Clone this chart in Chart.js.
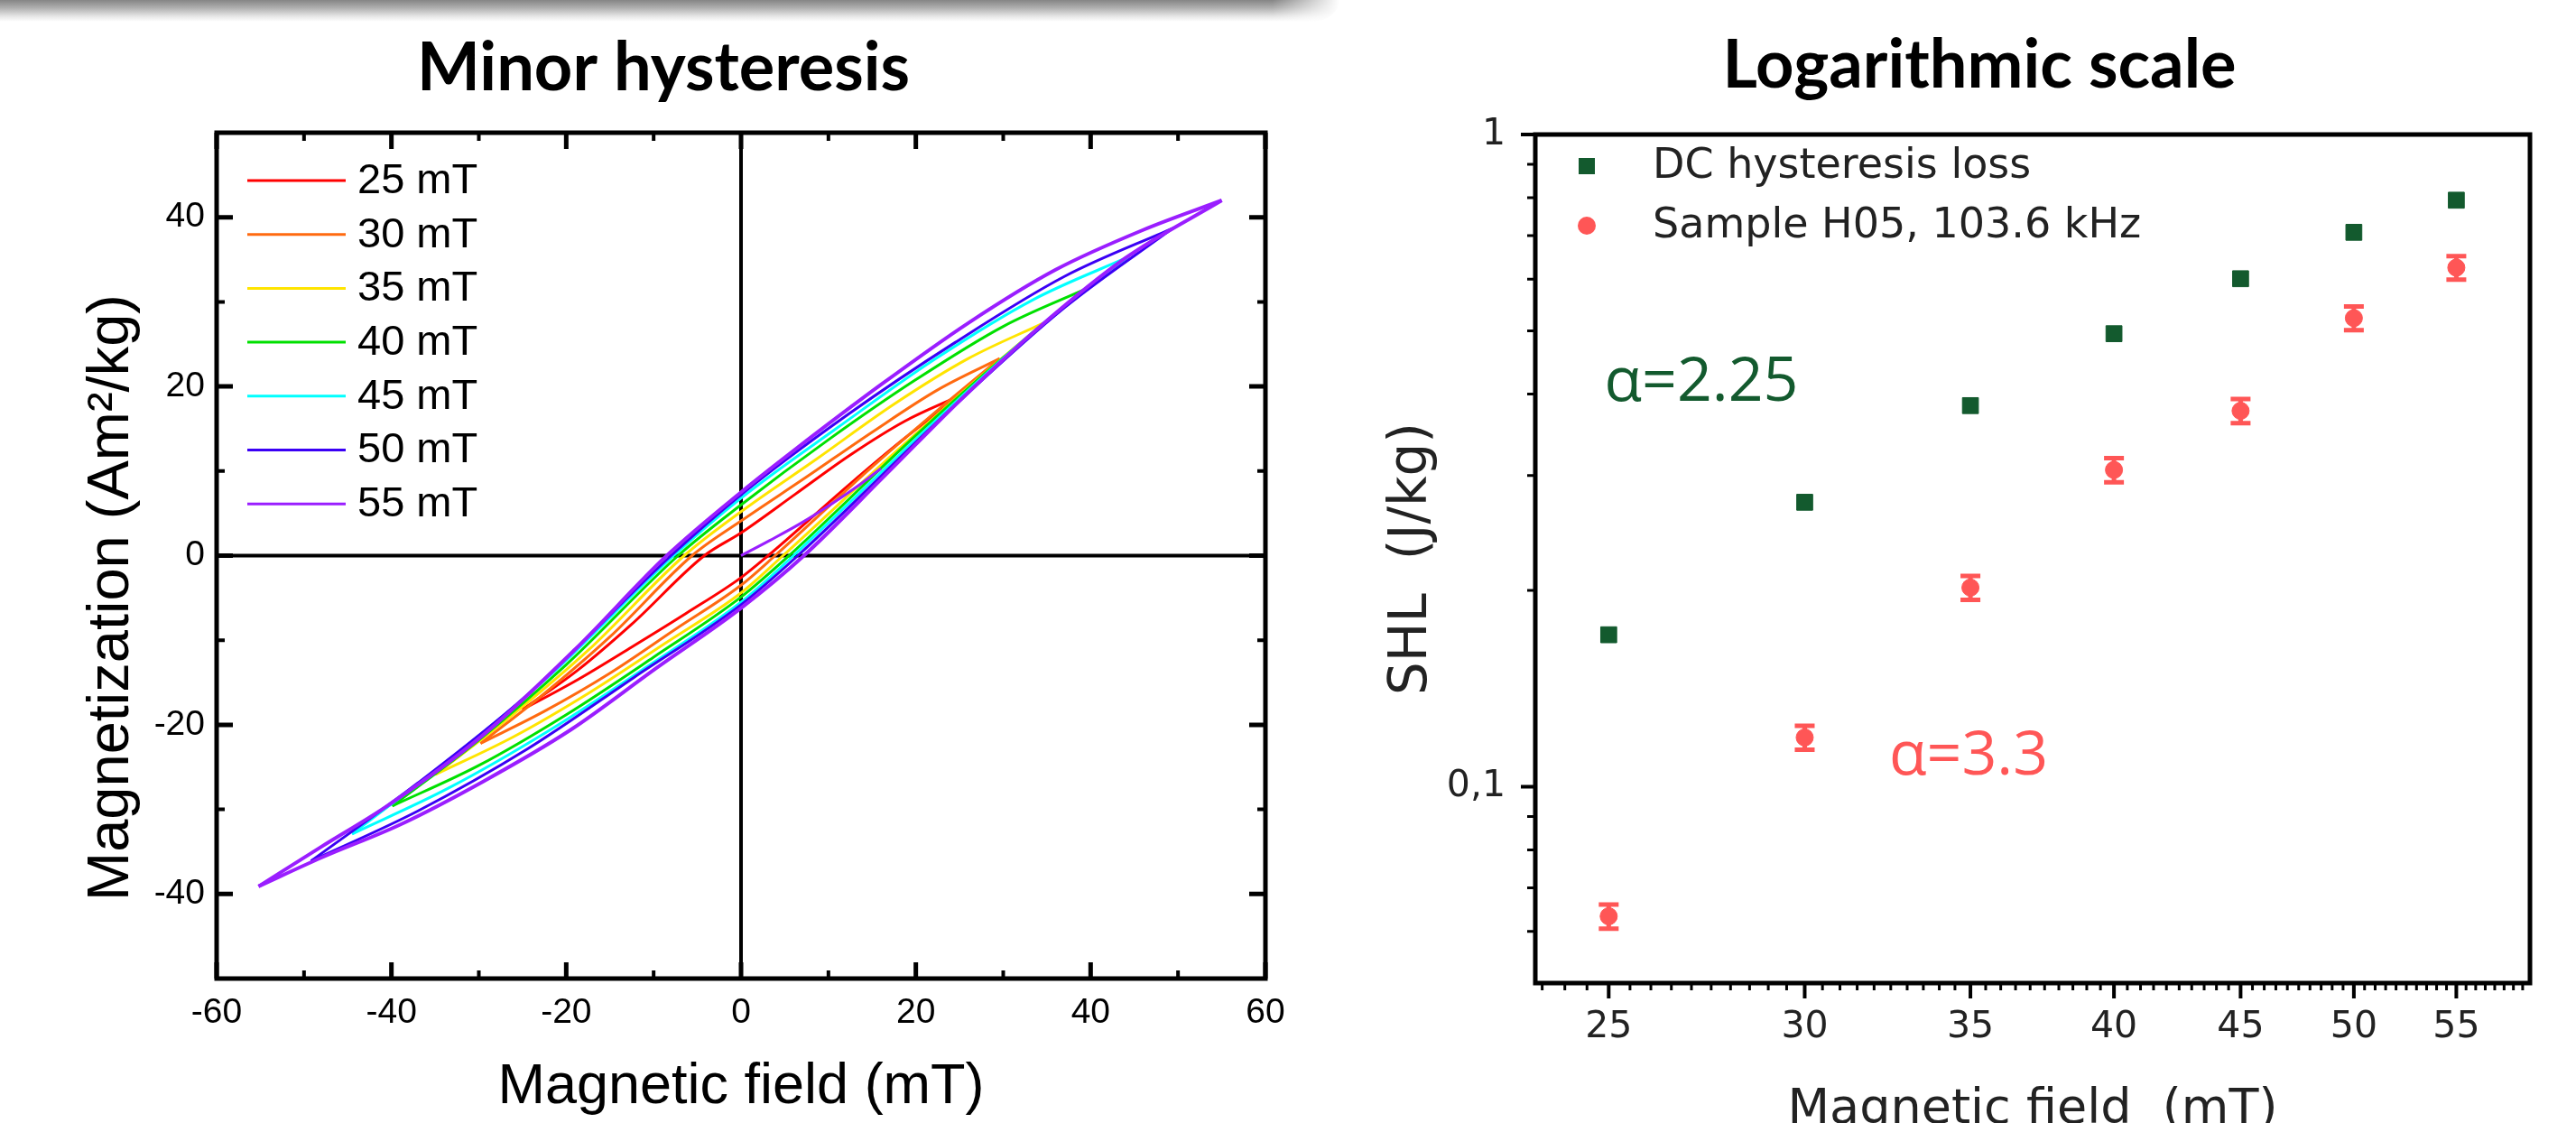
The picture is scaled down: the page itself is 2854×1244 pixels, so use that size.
<!DOCTYPE html>
<html><head><meta charset="utf-8"><title>Minor hysteresis / Logarithmic scale</title>
<script src="https://cdn.jsdelivr.net/npm/chart.js@4/dist/chart.umd.min.js"></script>
<style>
html,body{margin:0;padding:0;background:#fff;width:2854px;height:1244px;overflow:hidden;}
.box{position:absolute;top:0;height:1244px;}
#wl{left:0;width:1480px;}
#wr{left:1480px;width:1374px;}
#shade{position:absolute;left:0;top:0;width:1484px;height:24px;
 background:linear-gradient(to bottom,#858585 0%,#adadad 35%,#e6e6e6 75%,rgba(255,255,255,0) 100%);
 border-bottom-right-radius:30px 24px;
 -webkit-mask-image:linear-gradient(to right,#000 0%,#000 95%,transparent 100%);
 mask-image:linear-gradient(to right,#000 0%,#000 95%,transparent 100%);}
</style></head>
<body>
<div id="wl" class="box"><canvas id="cl"></canvas></div>
<div id="wr" class="box"><canvas id="cr"></canvas></div>
<div id="shade"></div>
<script>
// ---------------- texts ----------------
const titleL = 'Minor hysteresis';
const titleR = 'Logarithmic scale';
const xTitleL = 'Magnetic field (mT)';
const yTitleL = 'Magnetization (Am\u00B2/kg)';
const xTitleR = 'Magnetic field  (mT)';
const yTitleR = 'SHL  (J/kg)';
const alphaDC = '\u03B1=2.25';
const alphaH05 = '\u03B1=3.3';

// ---------------- left chart data (H in mT, M in Am2/kg) ----------------
const loopLabels = ['25 mT', '30 mT', '35 mT', '40 mT', '45 mT', '50 mT', '55 mT'];
const xTicksL = [-60, -40, -20, 0, 20, 40, 60];
const yTicksL = [-40, -20, 0, 20, 40];
const xMinorL = [-50, -30, -10, 10, 30, 50];
const yMinorL = [-30, -10, 10, 30];

const up25 = [[25,18.9],[18.75,15.9],[12.5,11.9],[6.25,7.3],[0,2.7],[-4.2,0],[-12.5,-8.1],[-18.75,-13.6],[-25,-18.2]];
const lo25 = [[-25,-18.2],[-18.75,-14.7],[-12.5,-10.8],[-6.25,-6.8],[0,-2.6],[3.1,0],[12.5,8.5],[18.75,13.9],[25,18.9]];
const up30 = [[29.6,23.3],[22.5,19.6],[15,14.6],[7.5,9.3],[0,4.1],[-5.6,0],[-15,-9.6],[-22.5,-16.3],[-29.8,-22.2]];
const lo30 = [[-29.8,-22.2],[-22.5,-18.4],[-15,-13.9],[-7.5,-8.7],[0,-3.5],[3.9,0],[15,10.5],[22.5,17.2],[29.6,23.3]];
const up35 = [[34.6,27.5],[26,23.3],[17.5,17.9],[8.75,11.5],[0,5.2],[-6.5,0],[-17.5,-11.2],[-26,-18.7],[-35,-25.9]];
const lo35 = [[-35,-25.9],[-26,-21.4],[-17.5,-16.3],[-8.75,-10.4],[0,-4.4],[4.8,0],[17.5,12.1],[26,19.9],[34.6,27.5]];
const up40 = [[39.6,31.6],[30,27.1],[20,20.8],[10,13.7],[0,6.0],[-7.2,0],[-20,-12.9],[-30,-21.8],[-39.9,-29.6]];
const lo40 = [[-39.9,-29.6],[-30,-24.8],[-20,-18.8],[-10,-12.0],[0,-4.9],[5.5,0],[20,14.2],[30,23.4],[39.6,31.6]];
const up45 = [[44.3,35.3],[33.5,30.3],[22,23.1],[11,15.1],[0,6.8],[-7.7,0],[-22,-14.3],[-33.5,-24.2],[-44.5,-32.9]];
const lo45 = [[-44.5,-32.9],[-33.5,-27.5],[-22,-20.7],[-11,-13.3],[0,-5.5],[6.0,0],[22,15.7],[33.5,26.5],[44.3,35.3]];
const up50 = [[49.4,38.7],[37,33.0],[24.5,25.2],[12.25,16.7],[0,7.2],[-8,0],[-24.5,-16.5],[-37,-26.9],[-49.2,-36.1]];
const lo50 = [[-49.2,-36.1],[-37,-30.2],[-24.5,-22.9],[-12.25,-14.4],[0,-5.8],[6.5,0],[24.5,17.8],[37,29.3],[49.4,38.7]];
const up55 = [[55,42],[46,38.5],[36,33.8],[26,27.5],[16,20.2],[6,12.4],[0,7.5],[-8.5,0],[-19,-11.1],[-29.5,-21.2],[-40.5,-29.6],[-48,-34.4],[-55.2,-39.1]];
const lo55 = [[-55.2,-39.1],[-48,-35.7],[-39,-31.8],[-29.5,-26.7],[-19.5,-20.6],[-9.7,-13.3],[0,-6.2],[7.2,0],[16.4,9.4],[25.4,18.7],[34,26.9],[44,35.2],[55,42]];
const initial55 = [[0,0],[3.3,1.8],[6.8,3.8],[10.2,6.0],[13.6,8.4],[16,10.3]];

const loopUpper = [up25, up30, up35, up40, up45, up50, up55];
const loopLower = [lo25, lo30, lo35, lo40, lo45, lo50, lo55];

// ---------------- right chart data ----------------
const fieldR = [25, 30, 35, 40, 45, 50, 55];
const dcLoss = [0.171, 0.273, 0.384, 0.495, 0.601, 0.708, 0.793];
const h05Loss = [0.0633, 0.119, 0.202, 0.306, 0.377, 0.523, 0.625];
const h05Err = [0.0027, 0.005, 0.0085, 0.013, 0.016, 0.022, 0.026];
const xTicksR = [25, 30, 35, 40, 45, 50, 55];
const yTicksR = [0.1, 1];
const yMinorR = [0.06, 0.07, 0.08, 0.09, 0.2, 0.3, 0.4, 0.5, 0.6, 0.7, 0.8, 0.9];
const dsLabelsR = ['DC hysteresis loss', 'Sample H05, 103.6 kHz'];

// ---------------- styles ----------------
const loopColors = ['#FF0000', '#FF6A10', '#FFE400', '#00E000', '#00FFFF', '#3A00F5', '#9A1EFF'];
const greenC = '#135A2E';
const redC = '#FF5656';
const fontL = "'Liberation Sans', Arial, sans-serif";
const fontR = "'DejaVu Sans', Verdana, sans-serif";
const fontTitle = "Lato, 'Open Sans', sans-serif";
const fontAlpha = "'Open Sans', 'Noto Sans', sans-serif";

const toXY = arr => arr.map(p => ({x: p[0], y: p[1]}));

// ---------------- left chart ----------------
const dsL = [];
loopLabels.forEach((lab, i) => {
  const common = {label: lab, showLine: true, pointRadius: 0, pointHoverRadius: 0,
    borderColor: loopColors[i], backgroundColor: loopColors[i],
    borderWidth: i === 6 ? 4 : 3, cubicInterpolationMode: 'monotone', fill: false, order: 10 - i};
  dsL.push(Object.assign({}, common, {data: toXY(loopUpper[i])}));
  dsL.push(Object.assign({}, common, {data: toXY(loopLower[i])}));
});
dsL.push({label: '55 mT', data: toXY(initial55), showLine: true, pointRadius: 0, pointHoverRadius: 0,
  borderColor: loopColors[6], backgroundColor: loopColors[6], borderWidth: 3,
  cubicInterpolationMode: 'monotone', fill: false, order: 2});

const leftDeco = {
  id: 'leftDeco',
  beforeDatasetsDraw(chart) {
    const {ctx, chartArea: a, scales: {x, y}} = chart;
    ctx.save();
    ctx.strokeStyle = '#000';
    ctx.lineWidth = 4;
    const px0 = x.getPixelForValue(0), py0 = y.getPixelForValue(0);
    ctx.beginPath();
    ctx.moveTo(px0, a.top); ctx.lineTo(px0, a.bottom);
    ctx.moveTo(a.left, py0); ctx.lineTo(a.right, py0);
    ctx.stroke();
    ctx.restore();
  },
  afterDatasetsDraw(chart) {
    const {ctx, chartArea: a, scales: {x, y}} = chart;
    ctx.save();
    ctx.strokeStyle = '#000';
    const drawTicks = (xv, yv, len, w) => {
      ctx.lineWidth = w;
      ctx.beginPath();
      xv.forEach(v => { const p = x.getPixelForValue(v);
        ctx.moveTo(p, a.bottom); ctx.lineTo(p, a.bottom - len);
        ctx.moveTo(p, a.top); ctx.lineTo(p, a.top + len); });
      yv.forEach(v => { const p = y.getPixelForValue(v);
        ctx.moveTo(a.left, p); ctx.lineTo(a.left + len, p);
        ctx.moveTo(a.right, p); ctx.lineTo(a.right - len, p); });
      ctx.stroke();
    };
    drawTicks(xTicksL, yTicksL, 18, 5);
    drawTicks(xMinorL, yMinorL, 9, 4);
    ctx.lineWidth = 5;
    ctx.strokeRect(a.left, a.top, a.right - a.left, a.bottom - a.top);
    // legend
    ctx.font = '47px ' + fontL;
    ctx.textBaseline = 'middle';
    ctx.textAlign = 'left';
    loopLabels.forEach((lab, i) => {
      const yy = a.top + 53 + i * 59.7;
      ctx.strokeStyle = loopColors[i];
      ctx.lineWidth = 3;
      ctx.beginPath(); ctx.moveTo(a.left + 34, yy); ctx.lineTo(a.left + 143, yy); ctx.stroke();
      ctx.fillStyle = '#000';
      ctx.fillText(lab, a.left + 156, yy + 1);
    });
    // y title
    ctx.save();
    ctx.translate(124, 662);
    ctx.rotate(-Math.PI / 2);
    ctx.font = '65px ' + fontL;
    ctx.textAlign = 'center';
    ctx.fillStyle = '#000';
    ctx.fillText(yTitleL, 0, 0);
    ctx.restore();
    // title
    ctx.font = 'bold 74px ' + fontTitle;
    ctx.textAlign = 'center';
    ctx.textBaseline = 'alphabetic';
    ctx.fillStyle = '#000';
    ctx.fillText(titleL, 735, 100);
    ctx.restore();
  }
};

new Chart(document.getElementById('cl'), {
  type: 'scatter',
  data: {datasets: dsL},
  options: {
    responsive: true, maintainAspectRatio: false, animation: false, devicePixelRatio: 1,
    layout: {padding: {top: 147, right: 78, left: 0, bottom: 0}},
    plugins: {legend: {display: false}, tooltip: {enabled: false}, title: {display: false}},
    scales: {
      x: {type: 'linear', min: -60, max: 60,
        afterBuildTicks: s => { s.ticks = xTicksL.map(v => ({value: v})); },
        afterFit: s => { s.height = 160; },
        grid: {display: false, drawTicks: false}, border: {display: false},
        ticks: {color: '#000', font: {family: fontL, size: 39}, padding: 15, maxRotation: 0, autoSkip: false,
          callback: v => String(v)},
        title: {display: true, text: xTitleL, color: '#000', font: {family: fontL, size: 63, lineHeight: 1.2},
          padding: {top: 0, bottom: 2}}},
      y: {type: 'linear', min: -50, max: 50,
        afterBuildTicks: s => { s.ticks = yTicksL.map(v => ({value: v})); },
        afterFit: s => { s.width = 240; },
        grid: {display: false, drawTicks: false}, border: {display: false},
        ticks: {color: '#000', font: {family: fontL, size: 39}, padding: 13, autoSkip: false,
          callback: v => String(v)},
        title: {display: false}}
    }
  },
  plugins: [leftDeco]
});

// ---------------- right chart ----------------
const rightDeco = {
  id: 'rightDeco',
  beforeDatasetsDraw(chart) {
    const {ctx, scales: {x, y}} = chart;
    ctx.save();
    ctx.strokeStyle = redC;
    ctx.lineWidth = 5;
    ctx.beginPath();
    fieldR.forEach((h, i) => {
      const px = x.getPixelForValue(h);
      const t = y.getPixelForValue(h05Loss[i] + h05Err[i]);
      const b = y.getPixelForValue(h05Loss[i] - h05Err[i]);
      ctx.moveTo(px, t); ctx.lineTo(px, b);
      ctx.moveTo(px - 11, t); ctx.lineTo(px + 11, t);
      ctx.moveTo(px - 11, b); ctx.lineTo(px + 11, b);
    });
    ctx.stroke();
    ctx.restore();
  },
  afterDatasetsDraw(chart) {
    const {ctx, chartArea: a, scales: {x, y}} = chart;
    ctx.save();
    ctx.strokeStyle = '#000';
    ctx.lineWidth = 4;
    ctx.beginPath();
    xTicksR.forEach(v => { const p = x.getPixelForValue(v); ctx.moveTo(p, a.bottom); ctx.lineTo(p, a.bottom + 17); });
    yTicksR.forEach(v => { const p = y.getPixelForValue(v); ctx.moveTo(a.left, p); ctx.lineTo(a.left - 16, p); });
    ctx.stroke();
    ctx.lineWidth = 3;
    ctx.beginPath();
    for (let h = 23.5; h <= 58.75; h += 0.5) {
      if (xTicksR.indexOf(h) >= 0) continue;
      const p = x.getPixelForValue(h);
      ctx.moveTo(p, a.bottom); ctx.lineTo(p, a.bottom + 8);
    }
    yMinorR.forEach(v => { const p = y.getPixelForValue(v); ctx.moveTo(a.left, p); ctx.lineTo(a.left - 9, p); });
    ctx.stroke();
    ctx.lineWidth = 5;
    ctx.strokeRect(a.left, a.top, a.right - a.left, a.bottom - a.top);
    // legend
    ctx.fillStyle = greenC;
    ctx.fillRect(a.left + 57 - 9, a.top + 35 - 9, 18, 18);
    ctx.fillStyle = redC;
    ctx.beginPath(); ctx.arc(a.left + 57, a.top + 101, 10, 0, Math.PI * 2); ctx.fill();
    ctx.fillStyle = '#222';
    ctx.font = '46px ' + fontR;
    ctx.textAlign = 'left';
    ctx.textBaseline = 'middle';
    ctx.fillText(dsLabelsR[0], a.left + 130, a.top + 36);
    ctx.fillText(dsLabelsR[1], a.left + 130, a.top + 102);
    // alpha annotations
    ctx.font = '68px ' + fontAlpha;
    ctx.textBaseline = 'alphabetic';
    ctx.fillStyle = greenC;
    ctx.fillText(alphaDC, x.getPixelForValue(24.9), y.getPixelForValue(0.39));
    ctx.fillStyle = redC;
    ctx.fillText(alphaH05, x.getPixelForValue(32.45), y.getPixelForValue(0.1045));
    // title
    ctx.font = 'bold 74px ' + fontTitle;
    ctx.textAlign = 'center';
    ctx.fillStyle = '#000';
    ctx.fillText(titleR, 713, 97);
    ctx.restore();
  }
};

new Chart(document.getElementById('cr'), {
  type: 'scatter',
  data: {datasets: [
    {label: dsLabelsR[0], data: fieldR.map((h, i) => ({x: h, y: dcLoss[i]})), pointStyle: 'rect',
      pointRadius: 12.5, pointHoverRadius: 12.5, backgroundColor: greenC, borderColor: greenC, borderWidth: 1, showLine: false},
    {label: dsLabelsR[1], data: fieldR.map((h, i) => ({x: h, y: h05Loss[i]})), pointStyle: 'circle',
      pointRadius: 9.5, pointHoverRadius: 9.5, backgroundColor: redC, borderColor: redC, borderWidth: 1, showLine: false}
  ]},
  options: {
    responsive: true, maintainAspectRatio: false, animation: false, devicePixelRatio: 1,
    layout: {padding: {top: 149, right: 51, left: 0, bottom: 0}},
    plugins: {legend: {display: false}, tooltip: {enabled: false}, title: {display: false}},
    scales: {
      x: {type: 'logarithmic', min: 23.35, max: 58.9,
        afterBuildTicks: s => { s.ticks = xTicksR.map(v => ({value: v})); },
        afterFit: s => { s.height = 155; },
        grid: {display: false, drawTicks: false}, border: {display: false},
        ticks: {color: '#222', font: {family: fontR, size: 41}, padding: 25, maxRotation: 0, autoSkip: false,
          callback: v => String(v)},
        title: {display: true, text: xTitleR, color: '#222', font: {family: fontR, size: 54, lineHeight: 0.5},
          padding: {top: 0, bottom: 0.5}}},
      y: {type: 'logarithmic', min: 0.05, max: 1,
        afterBuildTicks: s => { s.ticks = yTicksR.map(v => ({value: v})); },
        afterFit: s => { s.width = 221; },
        grid: {display: false, drawTicks: false}, border: {display: false},
        ticks: {color: '#222', font: {family: fontR, size: 41}, padding: 33, autoSkip: false,
          callback: v => String(v).replace('.', ',')},
        title: {display: true, text: yTitleR, color: '#222', font: {family: fontR, size: 58, lineHeight: 1.2},
          padding: {top: 50, bottom: 0}}}
    }
  },
  plugins: [rightDeco]
});
</script>
</body></html>
